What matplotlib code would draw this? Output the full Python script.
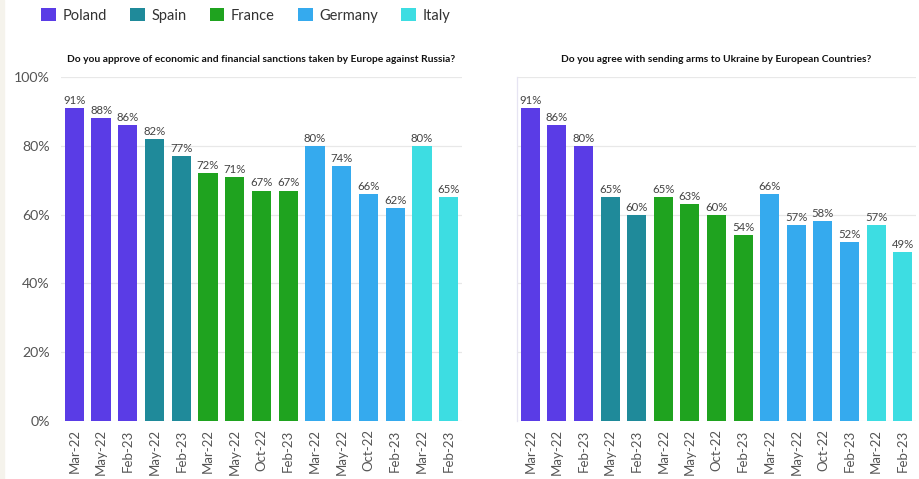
import matplotlib
matplotlib.use("Agg")
import matplotlib.pyplot as plt
from matplotlib.patches import Patch, Rectangle
from matplotlib.ticker import FuncFormatter

plt.rcParams['font.family'] = ['Lato', 'DejaVu Sans']

countries = ["Poland", "Spain", "France", "Germany", "Italy"]
country_colors = ["#5a3ce6", "#1f8a9a", "#1fa31f", "#35aaee", "#3ddde2"]

bar_country = ["Poland", "Poland", "Poland", "Spain", "Spain",
               "France", "France", "France", "France",
               "Germany", "Germany", "Germany", "Germany",
               "Italy", "Italy"]
bar_dates = ["Mar-22", "May-22", "Feb-23", "May-22", "Feb-23",
             "Mar-22", "May-22", "Oct-22", "Feb-23",
             "Mar-22", "May-22", "Oct-22", "Feb-23",
             "Mar-22", "Feb-23"]

sanctions = [91, 88, 86, 82, 77, 72, 71, 67, 67, 80, 74, 66, 62, 80, 65]
arms = [91, 86, 80, 65, 60, 65, 63, 60, 54, 66, 57, 58, 52, 57, 49]

title_left = "Do you approve of economic and financial sanctions taken by Europe against Russia?"
title_right = "Do you agree with sending arms to Ukraine by European Countries?"

cmap = dict(zip(countries, country_colors))
colors = [cmap[c] for c in bar_country]

W, H = 919, 479
fig = plt.figure(figsize=(W / 100, H / 100), dpi=100)
fig.patch.set_facecolor("white")
fig.patches.append(Rectangle((0, 0), 4 / W, 1, transform=fig.transFigure,
                             color="#f5f3ec", zorder=0))

ytop = 77
ybot = 421
axL = fig.add_axes([61 / W, (H - ybot) / H, (462 - 61) / W, (ybot - ytop) / H])
axR = fig.add_axes([517 / W, (H - ybot) / H, (916 - 517) / W, (ybot - ytop) / H])

for ax, vals, title, showy in [(axL, sanctions, title_left, True),
                               (axR, arms, title_right, False)]:
    x = list(range(len(vals)))
    ax.bar(x, vals, width=0.72, color=colors, zorder=3)
    for xi, v in zip(x, vals):
        ax.text(xi, v + 0.6, f"{v}%", ha="center", va="bottom",
                fontsize=8.2, color="#444444", zorder=4)
    ax.set_xlim(-0.5, len(vals) - 0.5)
    ax.set_ylim(0, 100)
    ax.set_yticks([0, 20, 40, 60, 80, 100])
    ax.yaxis.set_major_formatter(FuncFormatter(lambda v, p: f"{int(v)}%"))
    ax.grid(axis="y", color="#e8e8e8", linewidth=0.9, zorder=0)
    ax.set_xticks(x)
    ax.set_xticklabels(bar_dates, rotation=90, fontsize=9.5, color="#555555")
    ax.tick_params(axis="x", length=0, pad=6)
    ax.tick_params(axis="y", length=0, labelsize=10.2, labelcolor="#555555", pad=8)
    for s in ["top", "right", "bottom", "left"]:
        ax.spines[s].set_visible(False)
    if not showy:
        ax.tick_params(axis="y", labelleft=False)
        ax.spines["left"].set_visible(True)
        ax.spines["left"].set_color("#e6e4f2")
        ax.spines["left"].set_linewidth(0.9)
    ax.set_title(title, fontsize=7.4, fontweight="bold", color="#111111", pad=11)

handles = [Patch(facecolor=c, edgecolor="none", label=n)
           for n, c in zip(countries, country_colors)]
fig.legend(handles=handles, loc="upper left", bbox_to_anchor=(28 / W, 1.0 + 5 / H),
           ncol=5, frameon=False, fontsize=10.5, handlelength=1.0,
           handleheight=1.0, handletextpad=0.45, columnspacing=1.6,
           labelcolor="#333333")

fig.savefig("out.png", dpi=100, facecolor="white")
